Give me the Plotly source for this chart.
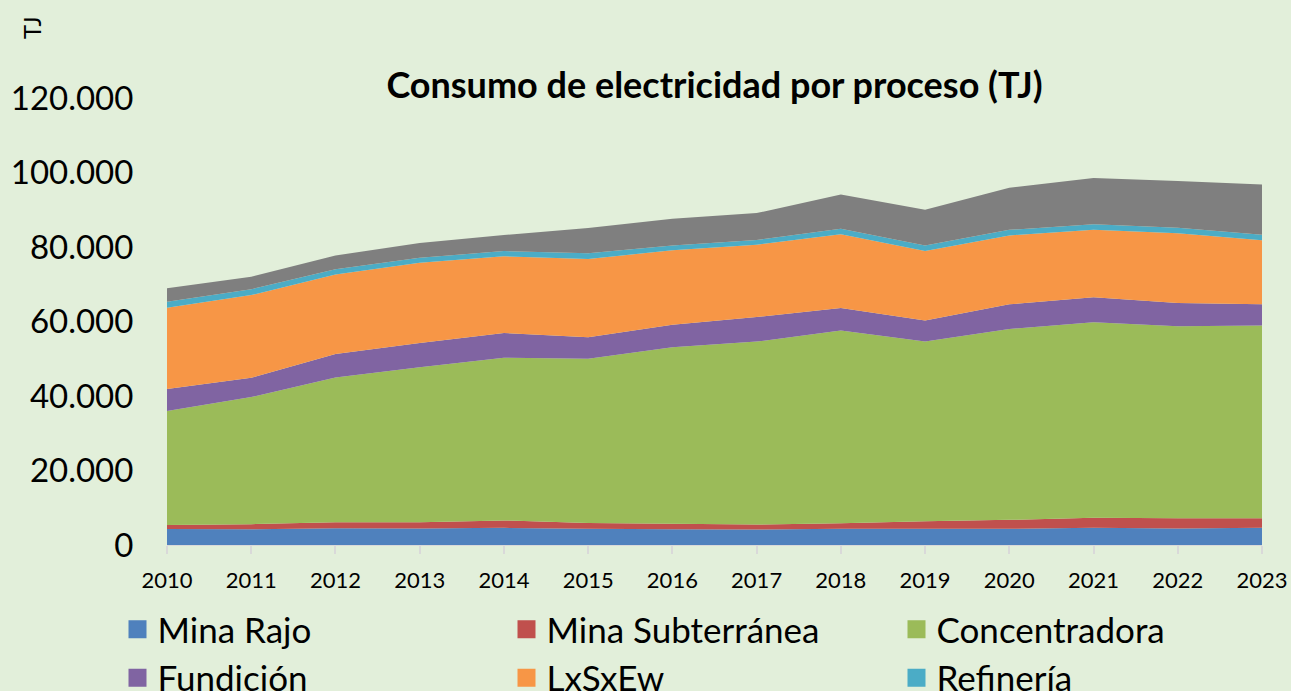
import plotly.graph_objects as go

years = list(range(2010, 2024))

# Per-series values (TJ) read from the stacked areas
mina_rajo = [4300, 4200, 4500, 4400, 4600, 4350, 4250, 4150, 4350, 4350, 4350, 4600, 4430, 4600]
mina_subterranea = [1100, 1400, 1600, 1700, 2000, 1550, 1450, 1350, 1500, 2050, 2400, 2700, 2770, 2600]
concentradora = [30600, 34100, 38900, 41600, 43700, 44100, 47400, 49100, 51750, 48200, 51250, 52500, 51500, 51700]
fundicion = [5900, 5200, 6300, 6500, 6600, 5800, 6000, 6600, 6000, 5700, 6600, 6700, 6300, 5700]
lxsxew = [21800, 22200, 21300, 21600, 20600, 21000, 20000, 19400, 19800, 18600, 18500, 18100, 18700, 17200]
refineria = [1600, 1550, 1400, 1300, 1400, 1500, 1300, 1300, 1500, 1500, 1500, 1500, 1500, 1500]
servicios = [3600, 3350, 3700, 4000, 4300, 6800, 7200, 7200, 9200, 9600, 11300, 12400, 12500, 13500]

series = [
    ("Mina Rajo", mina_rajo, "#4F81BD", "legend"),
    ("Mina Subterránea", mina_subterranea, "#C0504D", "legend2"),
    ("Concentradora", concentradora, "#9BBB59", "legend3"),
    ("Fundición", fundicion, "#8064A2", "legend"),
    ("LxSxEw", lxsxew, "#F79646", "legend2"),
    ("Refinería", refineria, "#4BACC6", "legend3"),
    ("Servicios", servicios, "#7F7F7F", None),
]

y_ticks = [0, 20000, 40000, 60000, 80000, 100000, 120000]
y_labels = ["0", "20.000", "40.000", "60.000", "80.000", "100.000", "120.000"]

fig = go.Figure()
for name, vals, color, leg in series:
    fig.add_trace(go.Scatter(
        x=years, y=vals, name=name, stackgroup="one", mode="none",
        fillcolor=color, showlegend=False, hoverinfo="x+y+name",
    ))
# legend entries (square swatches), three columns of two
for name, vals, color, leg in series:
    if leg:
        fig.add_trace(go.Scatter(
            x=[None], y=[None], name=name, mode="markers", legend=leg,
            marker=dict(symbol="square", size=16, color=color,
                        line=dict(color=color, width=2)),
            showlegend=True,
        ))

W, H = 1291, 691
ML, MT = 167, 98
PLOT_R, PLOT_B = 1262, 545
MR, MB = W - PLOT_R, H - PLOT_B
PW, PH = W - ML - MR, H - MT - MB

bg = "#E2EFDA"
leg_common = dict(orientation="v", xref="container", yref="container",
                  y=1 - 600 / H, xanchor="left", yanchor="top",
                  traceorder="normal", itemsizing="trace", itemwidth=30,
                  font=dict(size=35, family="Lato, sans-serif", color="#000000"),
                  bgcolor="rgba(0,0,0,0)")

fig.update_layout(
    width=W, height=H,
    paper_bgcolor=bg, plot_bgcolor=bg,
    margin=dict(l=ML, r=MR, t=MT, b=MB, autoexpand=False),
    font=dict(family="Lato, sans-serif", color="#000000"),
    title=dict(text="<b>Consumo de electricidad por proceso (TJ)</b>",
               x=0.5, xref="paper", y=1 - 85 / H, yref="container",
               xanchor="center", yanchor="middle",
               font=dict(size=36, family="Lato, sans-serif", color="#000000")),
    xaxis=dict(range=[2010, 2023], tickvals=years, ticktext=[str(y) for y in years],
               showgrid=False, zeroline=False, showline=True, linecolor="#D9D9D9",
               ticks="outside", ticklen=8, tickcolor="#D9D9D9", tickwidth=2,
               tickfont=dict(size=22), ticklabelstandoff=8, automargin=False),
    yaxis=dict(range=[0, 120000], tickvals=y_ticks, ticktext=y_labels,
               showgrid=False, zeroline=False, showline=False,
               ticks="outside", ticklen=26, tickcolor="rgba(0,0,0,0)",
               tickfont=dict(size=33), automargin=False),
    legend=dict(x=117.5 / W, **leg_common),
    legend2=dict(x=506.5 / W, **leg_common),
    legend3=dict(x=896.5 / W, **leg_common),
    annotations=[dict(text="TJ", textangle=-90,
                      x=(31 - ML) / PW, y=(H - MB - 28) / PH,
                      xref="paper", yref="paper", xanchor="center", yanchor="middle",
                      showarrow=False, font=dict(size=24))],
)

fig.write_html(
    "out.html",
    config={"displayModeBar": False},
    post_script="document.body.style.margin='0';document.body.style.overflow='hidden';",
)
